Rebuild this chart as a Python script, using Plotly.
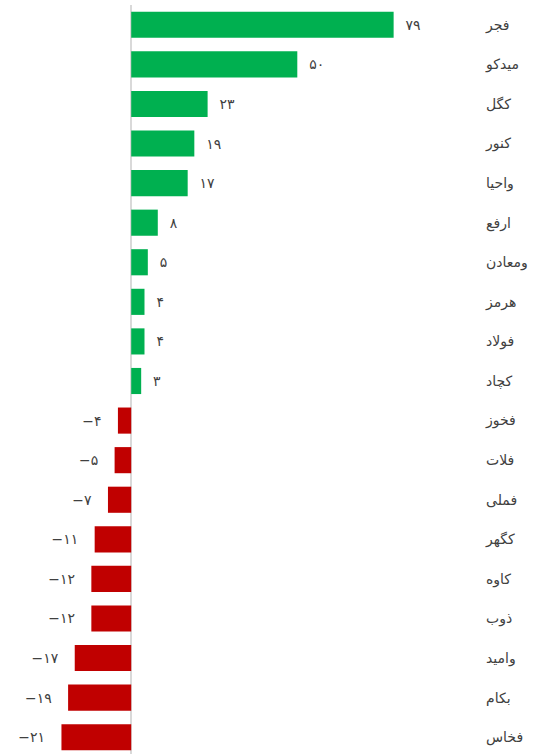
import plotly.graph_objects as go

categories = ["فجر", "میدکو", "کگل", "کنور", "واحیا", "ارفع", "ومعادن", "هرمز", "فولاد", "کچاد",
              "فخوز", "فلات", "فملی", "کگهر", "کاوه", "ذوب", "وامید", "بکام", "فخاس"]
values = [79, 50, 23, 19, 17, 8, 5, 4, 4, 3, -4, -5, -7, -11, -12, -12, -17, -19, -21]

POS_COLOR = "#00b050"
NEG_COLOR = "#c00000"

def fa_digits(n):
    trans = str.maketrans("0123456789", "۰۱۲۳۴۵۶۷۸۹")
    s = str(abs(n)).translate(trans)
    return ("\u2212" + s) if n < 0 else s

NB = "\u00a0"
texts = [(NB * 2 + fa_digits(v)) if v >= 0 else (fa_digits(v) + NB * 3) for v in values]
colors = [POS_COLOR if v >= 0 else NEG_COLOR for v in values]

fig = go.Figure(go.Bar(
    x=values, y=categories, orientation="h",
    marker=dict(color=colors, line=dict(width=0)),
    text=texts, textposition="outside", cliponaxis=False,
    textfont=dict(size=14, color="#404040", family="DejaVu Sans"),
    hoverinfo="skip",
))

fig.update_layout(
    width=533, height=757,
    margin=dict(l=0, r=53, t=5, b=0),
    paper_bgcolor="white", plot_bgcolor="white",
    bargap=0.34, showlegend=False,
    font=dict(family="DejaVu Sans", color="#404040", size=14),
    xaxis=dict(range=[-39.5, 105], showgrid=False, showticklabels=False, automargin=False,
               zeroline=True, zerolinecolor="#d9d9d9", zerolinewidth=2, fixedrange=True),
    yaxis=dict(side="right", autorange="reversed", showgrid=False, ticks="", automargin=False,
               showline=False, ticklabelstandoff=5, fixedrange=True,
               tickfont=dict(size=14, color="#404040")),
)

fig.write_html("out.html", config={"displayModeBar": False},
               post_script="document.body.style.margin='0';document.body.style.overflow='hidden';")
